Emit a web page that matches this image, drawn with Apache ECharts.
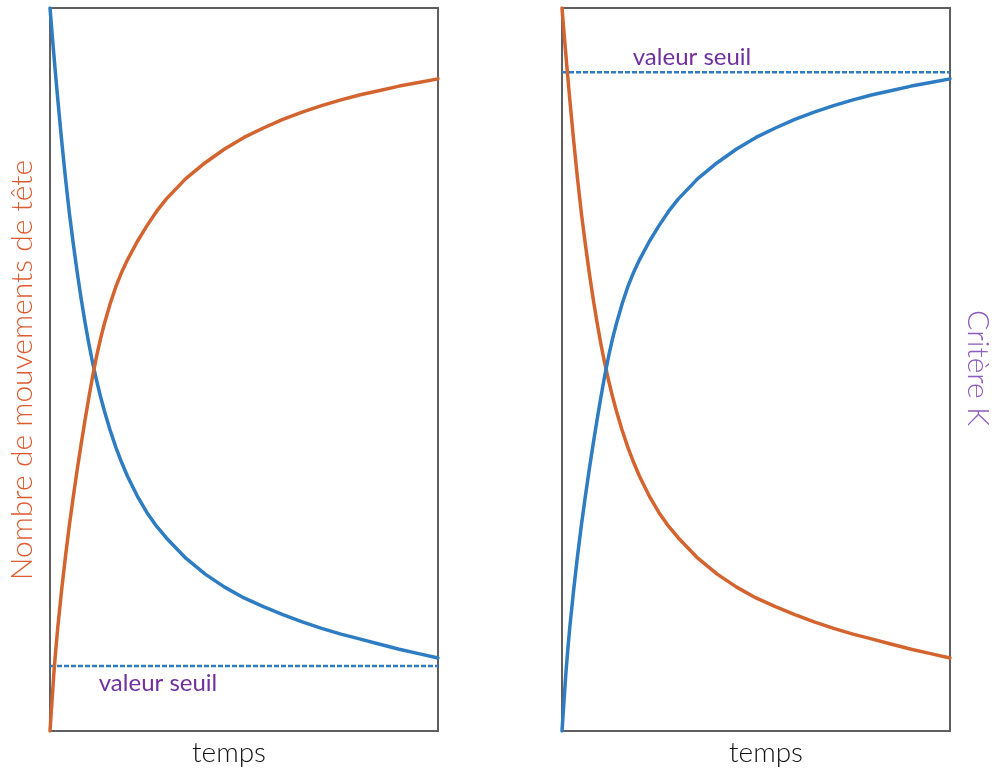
<!DOCTYPE html>
<html>
<head>
<meta charset="utf-8">
<script src="https://cdn.jsdelivr.net/npm/echarts@6/dist/echarts.min.js"></script>
<style>html,body{margin:0;padding:0;background:#fff;}#c{width:995px;height:771px;}</style>
</head>
<body>
<div id="c"></div>
<script>
// Time positions (shared, 0..100 across each panel)
const timeX = [0, 0.5, 1, 1.5, 2, 3, 4, 5, 6, 7, 8, 9, 10, 11, 12, 13, 14, 15.5, 17, 18.5, 20, 22.5, 25, 27.5, 30, 35, 40, 45, 50, 55, 60, 65, 70, 75, 80, 85, 90, 95, 100];
// Left panel: head movements (blue, decreasing) and criterion K (orange, increasing)
const leftDecY = [100, 96.7, 93.5, 90.4, 87.4, 81.7, 76.4, 71.6, 67.4, 63.5, 59.9, 56.6, 53.6, 50.9, 48.5, 46.3, 44.3, 41.6, 39.2, 37.1, 35.2, 32.5, 30.2, 28.3, 26.7, 23.9, 21.7, 19.9, 18.4, 17.2, 16.1, 15.1, 14.2, 13.4, 12.7, 12.0, 11.3, 10.7, 10.1];
const leftIncY = [0, 4, 8, 11.3, 14.3, 19.5, 24.2, 28.5, 32.4, 36.1, 39.6, 42.9, 46.1, 49.1, 51.8, 54.2, 56.3, 59.1, 61.5, 63.5, 65.2, 67.7, 69.9, 71.9, 73.6, 76.4, 78.6, 80.5, 82.1, 83.4, 84.6, 85.6, 86.5, 87.3, 88, 88.6, 89.2, 89.7, 90.2];
const leftThreshold = 9.0;
// Right panel: orange decreasing, blue increasing
const rightDecY = [100, 96.7, 93.5, 90.4, 87.4, 81.7, 76.4, 71.6, 67.4, 63.5, 59.9, 56.6, 53.6, 50.9, 48.5, 46.3, 44.3, 41.6, 39.2, 37.1, 35.2, 32.5, 30.2, 28.3, 26.7, 23.9, 21.7, 19.9, 18.4, 17.2, 16.1, 15.1, 14.2, 13.4, 12.7, 12.0, 11.3, 10.7, 10.1];
const rightIncY = [0, 4, 8, 11.3, 14.3, 19.5, 24.2, 28.5, 32.4, 36.1, 39.6, 42.9, 46.1, 49.1, 51.8, 54.2, 56.3, 59.1, 61.5, 63.5, 65.2, 67.7, 69.9, 71.9, 73.6, 76.4, 78.6, 80.5, 82.1, 83.4, 84.6, 85.6, 86.5, 87.3, 88, 88.6, 89.2, 89.7, 90.2];
const rightThreshold = 91.1;
const xTitle = 'temps';
const leftYTitle = 'Nombre de mouvements de tête';
const rightYTitle = 'Critère K';
const thresholdLabel = 'valeur seuil';

const BLUE = '#2E7CC1', ORANGE = '#D4642F', PURPLE = '#7030A0';
const zip = (xs, ys) => xs.map((x, i) => [x, ys[i]]);

function axisX(gi) {
  return {type:'value', gridIndex:gi, min:0, max:100, axisLine:{show:false}, axisTick:{show:false}, axisLabel:{show:false}, splitLine:{show:false}};
}
function axisY(gi) {
  return {type:'value', gridIndex:gi, min:0, max:100, axisLine:{show:false}, axisTick:{show:false}, axisLabel:{show:false}, splitLine:{show:false}};
}
function curve(gi, data, color) {
  return {type:'line', xAxisIndex:gi, yAxisIndex:gi, data, smooth:false, showSymbol:false, symbol:'none',
    lineStyle:{color, width:3.5, join:'round', cap:'round'}, silent:true, animation:false, z:3};
}
function dashed(gi, v) {
  return {type:'line', xAxisIndex:gi, yAxisIndex:gi, data:[[0, v], [100, v]], showSymbol:false, symbol:'none',
    lineStyle:{color:BLUE, width:2.5, type:[5, 2]}, silent:true, animation:false, z:2};
}

const chart = echarts.init(document.getElementById('c'));
chart.setOption({
  animation:false,
  backgroundColor:'#fff',
  grid:[
    {left:50, top:8, width:388, height:723, show:true, borderColor:'#5f5f5f', borderWidth:2, backgroundColor:'transparent'},
    {left:562, top:8, width:388, height:723, show:true, borderColor:'#5f5f5f', borderWidth:2, backgroundColor:'transparent'}
  ],
  xAxis:[axisX(0), axisX(1)],
  yAxis:[axisY(0), axisY(1)],
  series:[
    dashed(0, leftThreshold),
    curve(0, zip(timeX, leftDecY), BLUE),
    curve(0, zip(timeX, leftIncY), ORANGE),
    dashed(1, rightThreshold),
    curve(1, zip(timeX, rightDecY), ORANGE),
    curve(1, zip(timeX, rightIncY), BLUE)
  ],
  graphic:[
    {type:'text', x:229, y:753, style:{text:xTitle, font:'300 28px Lato', fill:'#111', align:'center', verticalAlign:'middle'}},
    {type:'text', x:766, y:753, style:{text:xTitle, font:'300 28px Lato', fill:'#111', align:'center', verticalAlign:'middle'}},
    {type:'text', x:158, y:683, style:{text:thresholdLabel, font:'24px Lato', fill:PURPLE, align:'center', verticalAlign:'middle'}},
    {type:'text', x:692, y:57, style:{text:thresholdLabel, font:'24px Lato', fill:PURPLE, align:'center', verticalAlign:'middle'}},
    {type:'text', x:22, y:370, rotation:Math.PI/2, style:{text:leftYTitle, font:'300 30px Lato', fill:'#DD5A2E', align:'center', verticalAlign:'middle'}},
    {type:'text', x:978, y:368, rotation:-Math.PI/2, style:{text:rightYTitle, font:'300 30px Lato', fill:'#8E5BBF', align:'center', verticalAlign:'middle'}}
  ]
});
</script>
</body>
</html>
